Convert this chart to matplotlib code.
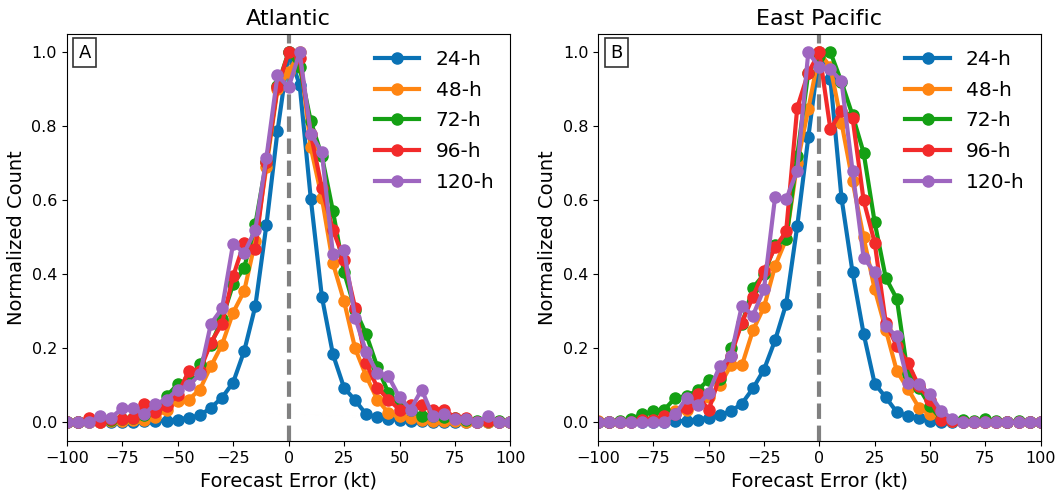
import numpy as np
import matplotlib
matplotlib.use("Agg")
import matplotlib.pyplot as plt

errors = list(range(-100, 101, 5))
leads = ["24-h", "48-h", "72-h", "96-h", "120-h"]
colors = ["#0a72b5", "#ff8512", "#14a014", "#f22a2a", "#9e66c0"]
titles = ["Atlantic", "East Pacific"]
panel_labels = ["A", "B"]
xticks = [-100, -75, -50, -25, 0, 25, 50, 75, 100]
yticks = [0.0, 0.2, 0.4, 0.6, 0.8, 1.0]

atl_24 = [0, 0, 0, 0, 0.002, 0.002, 0.002, 0.003, 0.003, 0.005,
          0.008, 0.013, 0.019, 0.04, 0.067, 0.108, 0.193, 0.314, 0.533, 0.787,
          1.0, 0.912, 0.605, 0.34, 0.184, 0.094, 0.06, 0.022, 0.014, 0.01,
          0.007, 0.004, 0.003, 0.002, 0.001, 0, 0, 0, 0, 0, 0]
atl_48 = [0, 0, 0, 0, 0.003, 0.005, 0.006, 0.008, 0.015, 0.035,
          0.058, 0.062, 0.089, 0.152, 0.21, 0.297, 0.355, 0.49, 0.69, 0.9,
          0.946, 1.0, 0.743, 0.607, 0.43, 0.328, 0.2, 0.125, 0.062, 0.026,
          0.017, 0.011, 0.006, 0.005, 0.004, 0.003, 0.002, 0.001, 0, 0, 0]
atl_72 = [0, 0, 0.003, 0.005, 0.006, 0.01, 0.012, 0.02, 0.035, 0.071,
          0.103, 0.118, 0.157, 0.21, 0.28, 0.373, 0.418, 0.535, 0.705, 0.91,
          1.0, 0.96, 0.814, 0.72, 0.571, 0.406, 0.305, 0.238, 0.15, 0.08,
          0.049, 0.035, 0.017, 0.017, 0.015, 0.013, 0.007, 0.004, 0.004, 0.003, 0.002]
atl_96 = [0, 0, 0.013, 0, 0.01, 0.01, 0.013, 0.049, 0.027, 0.045,
          0.075, 0.139, 0.14, 0.216, 0.267, 0.395, 0.486, 0.468, 0.705, 0.905,
          1.0, 0.986, 0.78, 0.634, 0.52, 0.44, 0.31, 0.161, 0.094, 0.062,
          0.035, 0.046, 0.046, 0.035, 0.035, 0.013, 0.013, 0.002, 0.005, 0, 0]
atl_120 = [0, 0, 0, 0.017, 0.013, 0.038, 0.038, 0.022, 0.051, 0.062,
           0.089, 0.1, 0.13, 0.267, 0.308, 0.483, 0.458, 0.52, 0.715, 0.938,
           0.905, 1.0, 0.78, 0.73, 0.454, 0.467, 0.283, 0.19, 0.134, 0.125,
           0.068, 0.035, 0.089, 0.017, 0.022, 0.01, 0.01, 0.002, 0.017, 0, 0]

epac_24 = [0, 0, 0, 0, 0, 0, 0.002, 0.003, 0.005, 0.008,
           0.013, 0.02, 0.03, 0.051, 0.092, 0.143, 0.222, 0.32, 0.53, 0.77,
           1.0, 0.927, 0.607, 0.406, 0.24, 0.105, 0.068, 0.028, 0.017, 0.013,
           0.005, 0.002, 0.001, 0, 0, 0, 0, 0, 0, 0, 0]
epac_48 = [0.003, 0, 0, 0.003, 0.005, 0.008, 0.012, 0.03, 0.035, 0.05,
           0.07, 0.1, 0.154, 0.154, 0.249, 0.312, 0.423, 0.495, 0.7, 0.846,
           1.0, 0.96, 0.81, 0.652, 0.5, 0.36, 0.251, 0.139, 0.091, 0.04,
           0.022, 0.01, 0.005, 0.003, 0.002, 0.001, 0, 0, 0, 0, 0]
epac_72 = [0, 0, 0.003, 0.01, 0.022, 0.03, 0.035, 0.067, 0.071, 0.087,
           0.116, 0.118, 0.2, 0.265, 0.364, 0.4, 0.48, 0.495, 0.72, 0.945,
           0.99, 1.0, 0.92, 0.83, 0.729, 0.541, 0.391, 0.334, 0.13, 0.094,
           0.044, 0.01, 0.008, 0.006, 0.004, 0.01, 0.003, 0.002, 0.003, 0.001, 0]
epac_96 = [0, 0, 0, 0.002, 0.008, 0.008, 0.017, 0.022, 0.04, 0.076,
           0.033, 0.125, 0.18, 0.27, 0.34, 0.41, 0.473, 0.516, 0.85, 0.945,
           1.0, 0.792, 0.842, 0.823, 0.6, 0.486, 0.27, 0.206, 0.161, 0.098,
           0.062, 0.008, 0.004, 0.002, 0.001, 0, 0, 0, 0, 0, 0]
epac_120 = [0, 0, 0, 0, 0, 0, 0.002, 0.022, 0.067, 0.046,
            0.08, 0.152, 0.179, 0.316, 0.289, 0.361, 0.609, 0.603, 0.68, 1.0,
            0.96, 0.954, 0.922, 0.68, 0.445, 0.406, 0.26, 0.233, 0.107, 0.103,
            0.076, 0.032, 0.01, 0.002, 0.001, 0, 0, 0, 0, 0, 0]

panels = [
    [atl_24, atl_48, atl_72, atl_96, atl_120],
    [epac_24, epac_48, epac_72, epac_96, epac_120],
]

fig = plt.figure(figsize=(10.59, 4.90), dpi=100)
axes = [fig.add_axes([0.063, 0.10, 0.419, 0.831]),
        fig.add_axes([0.5647, 0.10, 0.418, 0.831])]

for ax, series, title, lab in zip(axes, panels, titles, panel_labels):
    ax.axvline(0, color="#808080", lw=3, ls="--", zorder=1)
    for vals, name, c in zip(series, leads, colors):
        ax.plot(errors, vals, "-o", color=c, lw=3, ms=8, label=name, zorder=2)
    ax.set_xlim(-100, 100)
    ax.set_ylim(-0.05, 1.05)
    ax.set_xticks(xticks)
    ax.set_yticks(yticks)
    ax.tick_params(labelsize=11.5)
    ax.set_xlabel("Forecast Error (kt)", fontsize=14)
    ax.set_ylabel("Normalized Count", fontsize=14)
    ax.set_title(title, fontsize=16)
    ax.text(0.027, 0.976, lab, transform=ax.transAxes, fontsize=13,
            ha="left", va="top",
            bbox=dict(boxstyle="square,pad=0.3", fc="white", ec="#333333", lw=1.2))
    ax.legend(loc="upper right", frameon=False, fontsize=14.5,
              handlelength=2.2, labelspacing=0.58, borderaxespad=0.4)

fig.savefig("out.png", dpi=100)
